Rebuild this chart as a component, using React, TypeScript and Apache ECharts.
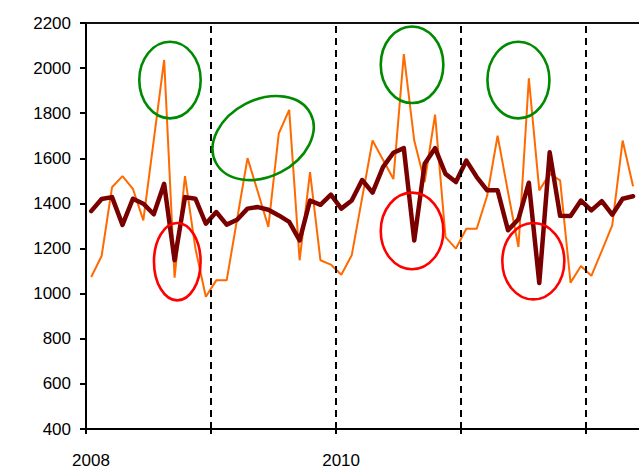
import React, { useEffect, useRef } from "react";
import * as echarts from "echarts";

const yearTickLabels: Record<number, string> = { 0: "2008", 24: "2010" };
const yearBoundaries = [12, 24, 36, 48];
const tickMonths = [0, 12, 24, 36, 48];

const seriesNames = ["Monthly", "Adjusted"];

const monthlyValues = [
  1074, 1167, 1472, 1521, 1465, 1325, 1680, 2036, 1071, 1521, 1200, 986,
  1059, 1059, 1330, 1601, 1450, 1296, 1710, 1815, 1148, 1539, 1148, 1129,
  1084, 1170, 1425, 1679, 1594, 1508, 2062, 1679, 1495, 1794, 1251, 1200,
  1288, 1288, 1435, 1700, 1450, 1207, 1955, 1458, 1531, 1502, 1049, 1123,
  1079, 1190, 1303, 1679, 1476,
];

const adjustedValues = [
  1366, 1420, 1428, 1305, 1421, 1399, 1352, 1487, 1148, 1428, 1421, 1310,
  1362, 1306, 1328, 1377, 1384, 1372, 1347, 1318, 1236, 1413, 1394, 1439,
  1377, 1413, 1504, 1448, 1561, 1625, 1645, 1236, 1576, 1645, 1531, 1495,
  1590, 1517, 1458, 1458, 1281, 1330, 1492, 1047, 1627, 1345, 1344, 1413,
  1369, 1410, 1350, 1421, 1432,
];

// annotation ellipses: centre in data coords [month, value], radii in px
const greenMarks = [
  { at: [8.06, 1947], rx: 30.7, ry: 38.3, rot: 0 },
  { at: [17.0, 1690], rx: 53.3, ry: 38.4, rot: 27.3 },
  { at: [31.29, 2015], rx: 31.3, ry: 38.3, rot: 0 },
  { at: [41.5, 1947], rx: 31, ry: 38.3, rot: 0 },
];
const redMarks = [
  { at: [8.76, 1142], rx: 23.3, ry: 38.7, rot: 0 },
  { at: [31.29, 1278], rx: 31.3, ry: 38.3, rot: 0 },
  { at: [42.93, 1144], rx: 31, ry: 38.2, rot: 0 },
];

export default function App() {
  const ref = useRef<HTMLDivElement>(null);
  useEffect(() => {
    if (!ref.current) return;
    const chart = echarts.init(ref.current, null, { renderer: "svg" });
    const toPairs = (arr: number[]) => arr.map((v, i) => [i + 0.5, v]);
    const font = "'Liberation Sans', Arial, sans-serif";
    chart.setOption({
      animation: false,
      backgroundColor: "#ffffff",
      grid: { left: 86, top: 23, bottom: 38.3, right: 0, containLabel: false },
      xAxis: [
        {
          type: "value",
          min: 0,
          max: 53.07,
          interval: 12,
          axisLine: { show: true, onZero: false, lineStyle: { color: "#000", width: 2 } },
          axisTick: {
            show: true,
            inside: false,
            length: 5,
            customValues: tickMonths,
            lineStyle: { color: "#000", width: 2 },
          },
          axisLabel: {
            show: true,
            margin: 23,
            color: "#000",
            fontSize: 17,
            fontFamily: font,
            padding: [0, 0, 0, 10],
            showMaxLabel: false,
            hideOverlap: false,
            formatter: (v: number) => yearTickLabels[Math.round(v)] ?? "",
          },
          splitLine: { show: false },
        },
        {
          type: "value",
          position: "top",
          min: 0,
          max: 53.07,
          axisLine: { show: true, lineStyle: { color: "#111", width: 2 } },
          axisTick: { show: false },
          axisLabel: { show: false },
          splitLine: { show: false },
        },
      ],
      yAxis: {
        type: "value",
        min: 400,
        max: 2200,
        interval: 200,
        axisLine: { show: true, lineStyle: { color: "#000", width: 2 } },
        axisTick: { show: true, length: 6, lineStyle: { color: "#000", width: 2 } },
        axisLabel: {
          margin: 15,
          color: "#000",
          fontSize: 17,
          fontFamily: font,
          formatter: (v: number) => String(v),
        },
        splitLine: { show: false },
      },
      series: [
        {
          name: seriesNames[0],
          type: "line",
          data: toPairs(monthlyValues),
          showSymbol: false,
          symbol: "none",
          lineStyle: { color: "#ff6a00", width: 2 },
          z: 2,
          markLine: {
            silent: true,
            symbol: ["none", "none"],
            label: { show: false },
            lineStyle: { color: "#000", width: 2, type: [7, 5] },
            data: yearBoundaries.map((m) => ({ xAxis: m })),
          },
        },
        {
          name: seriesNames[1],
          type: "line",
          data: toPairs(adjustedValues),
          showSymbol: false,
          symbol: "none",
          lineStyle: { color: "#7a0000", width: 4.5, join: "round", cap: "round" },
          z: 3,
        },
      ],
    });

    const mk = (m: any, color: string) => {
      const p = chart.convertToPixel({ xAxisIndex: 0, yAxisIndex: 0 }, m.at) as number[];
      return {
        type: "ellipse",
        x: p[0],
        y: p[1],
        rotation: (m.rot * Math.PI) / 180,
        shape: { cx: 0, cy: 0, rx: m.rx, ry: m.ry },
        style: { fill: "none", stroke: color, lineWidth: 2.6 },
        z: 10,
      };
    };
    chart.setOption({
      graphic: [
        ...greenMarks.map((m) => mk(m, "#008a00")),
        ...redMarks.map((m) => mk(m, "#ff0000")),
      ],
    });
    return () => chart.dispose();
  }, []);
  return (
    <div
      ref={ref}
      style={{ position: "fixed", left: 0, top: 0, width: 639, height: 469 }}
    />
  );
}
